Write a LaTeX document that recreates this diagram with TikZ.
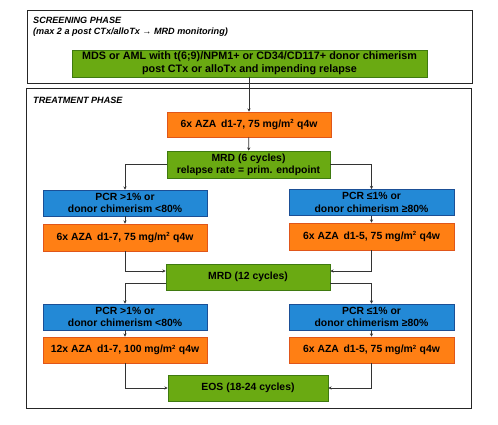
\documentclass[tikz,border=0pt]{standalone}
\usepackage{fontspec}
\setmainfont{Liberation Sans}
\usetikzlibrary{arrows.meta,calc}
\definecolor{gfill}{HTML}{6AAA12}
\definecolor{gdraw}{HTML}{3F7A10}
\definecolor{ofill}{HTML}{FF7F14}
\definecolor{odraw}{HTML}{E0561A}
\definecolor{bfill}{HTML}{2389D6}
\definecolor{bdraw}{HTML}{1B4F96}
\definecolor{lncol}{HTML}{333333}
\newcommand{\sqm}{m\textsuperscript{\fontsize{6bp}{6bp}\selectfont 2}}
\tikzset{
  box/.style={draw, line width=0.8bp, align=center, inner sep=0pt,
    font=\fontsize{10.4bp}{12.2bp}\selectfont\bfseries, text=black},
  gbox/.style={box, fill=gfill, draw=gdraw},
  obox/.style={box, fill=ofill, draw=odraw},
  bbox/.style={box, fill=bfill, draw=bdraw},
  frame/.style={draw=black!85, line width=1bp},
  conn/.style={draw=lncol, line width=0.7bp, -{Stealth[length=3.2bp,width=3.2bp]}},
  phase/.style={anchor=north west, inner sep=0pt, align=left,
    font=\fontsize{9.1bp}{11bp}\selectfont\bfseries\itshape}
}
\begin{document}
\begin{tikzpicture}[x=1bp,y=-1bp]
\useasboundingbox (0,0) rectangle (498,424);
\fill[white] (0,0) rectangle (498,424);
% frames
\draw[frame] (27,10) rectangle (472,83);
\draw[frame] (26,88) rectangle (471,408);
\node[phase] (scr) at (33,17) {SCREENING PHASE\\(max 2 a post CTx/alloTx → MRD monitoring)};
\node[phase] (trt) at (33,97) {TREATMENT PHASE};
% nodes
\node[gbox, minimum width=355bp, minimum height=27bp, font=\fontsize{10.8bp}{12.8bp}\selectfont\bfseries] (top) at (249.5,63.5)
  {MDS or AML with t(6;9)/NPM1+ or CD34/CD117+ donor chimerism\\post CTx or alloTx and impending relapse};
\node[obox, minimum width=164bp, minimum height=25bp] (aza) at (249,124.5) {6x AZA\, d1-7, 75 mg/\sqm{} q4w};
\node[gbox, minimum width=163bp, minimum height=27bp] (mrdA) at (248.5,164.5) {MRD (6 cycles)\\relapse rate = prim. endpoint};
\node[bbox, minimum width=164bp, minimum height=26bp] (bLA) at (125,203) {PCR >1\% or\\donor chimerism <80\%};
\node[obox, minimum width=164bp, minimum height=27bp] (oLA) at (125,237.5) {6x AZA\, d1-7, 75 mg/\sqm{} q4w};
\node[bbox, minimum width=165bp, minimum height=26bp] (bRA) at (371.5,202.5) {PCR ≤1\% or\\donor chimerism ≥80\%};
\node[obox, minimum width=165bp, minimum height=27bp] (oRA) at (371.5,236.5) {6x AZA\, d1-5, 75 mg/\sqm{} q4w};
\node[gbox, minimum width=164bp, minimum height=26bp] (mrdB) at (248,277) {MRD (12 cycles)};
\node[bbox, minimum width=164bp, minimum height=26bp] (bLB) at (125,317) {PCR >1\% or\\donor chimerism <80\%};
\node[obox, minimum width=164bp, minimum height=26bp] (oLB) at (125,350) {12x AZA\, d1-7, 100 mg/\sqm{} q4w};
\node[bbox, minimum width=165bp, minimum height=26bp] (bRB) at (371.5,317) {PCR ≤1\% or\\donor chimerism ≥80\%};
\node[obox, minimum width=165bp, minimum height=26bp] (oRB) at (371.5,350) {6x AZA\, d1-5, 75 mg/\sqm{} q4w};
\node[gbox, minimum width=160bp, minimum height=26bp] (eos) at (248,388) {EOS (18-24 cycles)};
% connectors
\draw[conn] (top.south -| aza.north) -- (aza.north);
\draw[conn] (aza) -- (mrdA);
\draw[conn] (mrdA.west) -| (bLA.north);
\draw[conn] (mrdA.east) -| (bRA.north);
\draw[conn] (bLA) -- (oLA);
\draw[conn] (bRA) -- (oRA);
\draw[conn] (oLA.south) |- ([yshift=6bp]mrdB.west);
\draw[conn] (oRA.south) |- ([yshift=6bp]mrdB.east);
\draw[conn] ([yshift=-6bp]mrdB.west) -| (bLB.north);
\draw[conn] ([yshift=-6bp]mrdB.east) -| (bRB.north);
\draw[conn] (bLB) -- (oLB);
\draw[conn] (bRB) -- (oRB);
\draw[conn] (oLB.south) |- (eos.west);
\draw[conn] (oRB.south) |- (eos.east);
\end{tikzpicture}
\end{document}
